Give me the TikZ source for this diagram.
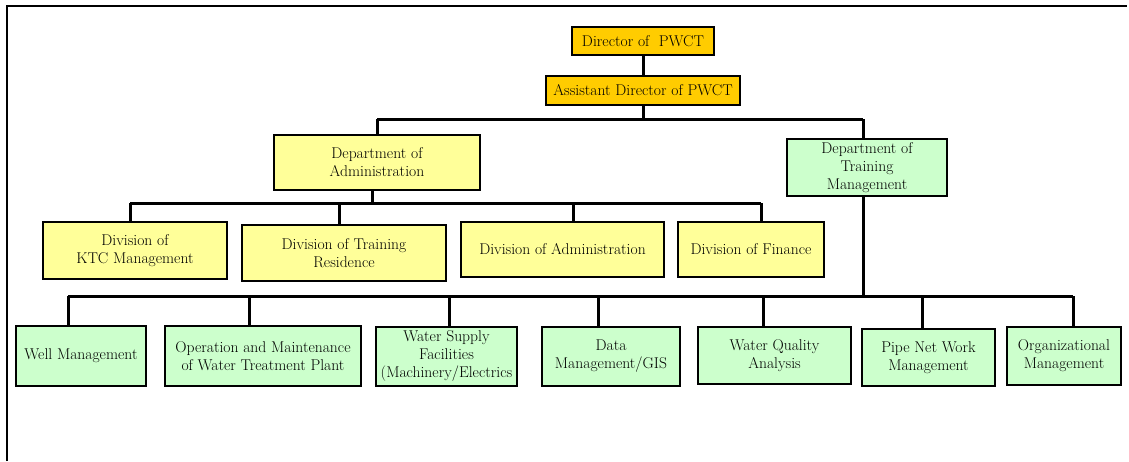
\documentclass[tikz,border=0pt]{standalone}
\begin{document}
\begin{tikzpicture}[x=1pt,y=-1pt,
  box/.style={draw=black,line width=2pt,inner sep=0pt,align=center,
    font=\fontsize{15.6}{18}\selectfont},
  gold/.style={box,fill=gold},
  ylw/.style={box,fill=ylw},
  grn/.style={box,fill=grn},
  conn/.style={line width=3pt},
  frame/.style={line width=2pt}]
\definecolor{gold}{HTML}{FFCC00}
\definecolor{ylw}{HTML}{FFFF99}
\definecolor{grn}{HTML}{CCFFCC}
\useasboundingbox (0,0) rectangle (1129,461);
\draw[frame] (7,461) -- (7,6) -- (1127,6);

% top
\node[gold,minimum width=142pt,minimum height=28pt] (dir) at (643,41) {Director of~~PWCT};
\node[gold,minimum width=194pt,minimum height=29pt] (asst) at (643,90.5) {Assistant Director of PWCT};

% departments
\node[ylw,minimum width=206pt,minimum height=55pt] (dadm) at (377,162.5) {Department of\\Administration};
\node[grn,minimum width=160pt,minimum height=57pt] (dtrn) at (867,167.5) {Department of\\Training\\Management};

% divisions
\node[ylw,minimum width=184pt,minimum height=57pt] (dkt) at (135,250.5) {Division of\\KTC Management};
\node[ylw,minimum width=204pt,minimum height=56pt] (dres) at (344,253) {Division of Training\\Residence};
\node[ylw,minimum width=203pt,minimum height=55pt] (ddadm) at (562.5,249.5) {Division of Administration};
\node[ylw,minimum width=146pt,minimum height=55pt] (dfin) at (751,249.5) {Division of Finance};

% training units
\node[grn,minimum width=130pt,minimum height=60pt] (well) at (81,356) {Well Management};
\node[grn,minimum width=196pt,minimum height=60pt] (om) at (263,356) {Operation and Maintenance\\of Water Treatment Plant};
\node[grn,minimum width=141pt,minimum height=59pt] (ws) at (446.5,356) {Water Supply\\Facilities\\(Machinery/Electrics};
\node[grn,minimum width=138pt,minimum height=59pt] (data) at (611,356) {Data\\Management/GIS};
\node[grn,minimum width=153pt,minimum height=57pt] (wq) at (774.5,355.5) {Water Quality\\Analysis};
\node[grn,minimum width=133pt,minimum height=57pt] (pipe) at (928.5,357.5) {Pipe Net Work\\Management};
\node[grn,minimum width=114pt,minimum height=58pt] (org) at (1064,356) {Organizational\\Management};

% connectors
\coordinate (b1) at (643,119);
\coordinate (b2) at (372,203);
\coordinate (b3) at (863,296);

\draw[conn] (dir.south) -- (asst.north);
\draw[conn] (asst.south) -- (b1);
\draw[conn] (377,119) -- (863,119);
\draw[conn] (b1 -| dadm.north) -- (dadm.north);
\draw[conn] (863,119) -- (863,0 |- dtrn.north);

\draw[conn] (372,0 |- dadm.south) -- (b2);
\draw[conn] (130,203) -- (761,203);
\draw[conn] (130,203) -- (130,0 |- dkt.north);
\draw[conn] (339,203) -- (339,0 |- dres.north);
\draw[conn] (573,203) -- (573,0 |- ddadm.north);
\draw[conn] (761,203) -- (761,0 |- dfin.north);

\draw[conn] (863,0 |- dtrn.south) -- (b3);
\draw[conn] (68,296) -- (1073,296);
\draw[conn] (68,296) -- (68,0 |- well.north);
\draw[conn] (249,296) -- (249,0 |- om.north);
\draw[conn] (449,296) -- (449,0 |- ws.north);
\draw[conn] (598,296) -- (598,0 |- data.north);
\draw[conn] (763,296) -- (763,0 |- wq.north);
\draw[conn] (922,296) -- (922,0 |- pipe.north);
\draw[conn] (1073,296) -- (1073,0 |- org.north);
\end{tikzpicture}
\end{document}
